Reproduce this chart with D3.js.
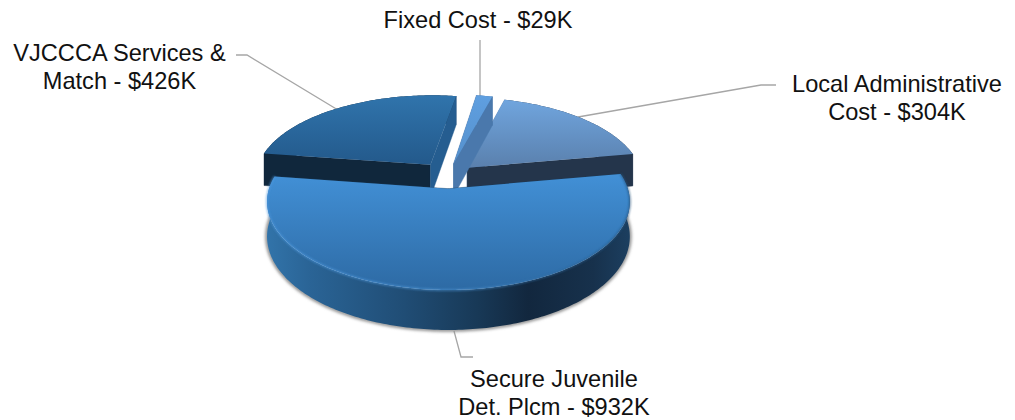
<!DOCTYPE html>
<html>
<head>
<meta charset="utf-8">
<script src="https://cdn.jsdelivr.net/npm/d3@7"></script>
<style>
  html, body { margin: 0; padding: 0; background: #fff; }
  text { font-family: "Liberation Sans", Arial, sans-serif; font-size: 23.6px; fill: #111; text-anchor: middle; }
</style>
</head>
<body>
<svg id="chart" width="1015" height="420"></svg>
<script>
// Budget categories and amounts in thousands of dollars, clockwise from the top.
const categories = ["Fixed Cost", "Local Administrative Cost", "Secure Juvenile Det. Plcm", "VJCCCA Services & Match"];
const amounts = [29, 304, 932, 426];
const labelLines = [
  ["Fixed Cost - $29K"],
  ["Local Administrative", "Cost - $304K"],
  ["Secure Juvenile", "Det. Plcm - $932K"],
  ["VJCCCA Services &", "Match - $426K"]
];
const labelAnchors = [[478, 28], [897, 92], [554, 387], [119.5, 61]];
const leaderLines = [
  [[480, 40], [480, 97]],
  [[776, 85], [761, 85], [578, 117]],
  [[454, 331], [461, 357], [473, 357]],
  [[236, 55], [247, 55], [338, 110]]
];
const explode = [0.155, 0.15, 0.15, 0.172];

const topStops = [
  [["#5f9fe0", 0], ["#5590cc", 1]],
  [["#70a5de", 0], ["#5a80ad", 1]],
  [["#4290d6", 0], ["#2d6aa4", 1]],
  [["#3074ac", 0], ["#23598b", 1]]
];
const faceColours = [
  { start: "#3d6a9f", end: "#4a78ac" },
  { start: "#4d7bb0", end: "#24354b" },
  { start: "#1b3f60", end: "#1b3f60" },
  { start: "#10273c", end: "#255d90" }
];
const outerColours = ["#3d6a9f", "#24354b", null, "#10273c"];

const svg = d3.select("#chart");
const defs = svg.append("defs");

// Oblique view of the pie: a disc in perspective, nearer points drawn larger.
const centre = { x: 448, y: 176 };
const view = { sx: 175.5, sy: 82.6, k: 0.145, depth: 33.3 };
const project = (u, v, down = 0) => {
  const w = 1 / (1 - view.k * v);
  return [centre.x + view.sx * u * w, centre.y + (view.sy * v + down * view.depth) * w];
};

const arcs = d3.pie().sort(null).value(d => d)
  .startAngle(9 * Math.PI / 180)
  .endAngle(369 * Math.PI / 180)(amounts);

const line = d3.line();

// Each slice carries its own outward shift along its middle angle.
function sliceGeometry(arc, i) {
  const mid = (arc.startAngle + arc.endAngle) / 2;
  const ox = explode[i] * Math.sin(mid), oy = -explode[i] * Math.cos(mid);
  const rim = (a, down) => project(ox + Math.sin(a), oy - Math.cos(a), down);
  const apex = down => project(ox, oy, down);
  const steps = Math.max(6, Math.ceil((arc.endAngle - arc.startAngle) * 60));
  const angles = d3.range(steps + 1).map(j => arc.startAngle + (arc.endAngle - arc.startAngle) * j / steps);
  return { rim, apex, angles };
}

function linearGradient(id, x1, y1, x2, y2, stops) {
  const g = defs.append("linearGradient").attr("id", id)
    .attr("gradientUnits", "userSpaceOnUse")
    .attr("x1", x1).attr("y1", y1).attr("x2", x2).attr("y2", y2);
  stops.forEach(([c, o]) => g.append("stop").attr("offset", o).attr("stop-color", c));
  return `url(#${id})`;
}

defs.append("filter").attr("id", "soft").attr("x", "-10%").attr("y", "-10%").attr("width", "120%").attr("height", "120%")
  .append("feGaussianBlur").attr("stdDeviation", 1.6);
defs.append("filter").attr("id", "edge").attr("x", "-5%").attr("y", "-5%").attr("width", "110%").attr("height", "110%")
  .append("feGaussianBlur").attr("stdDeviation", 0.8);

const bigIndex = amounts.indexOf(d3.max(amounts));
const wallFill = linearGradient("wall", 266, 0, 630, 0, [
  ["#3274aa", 0], ["#2a6496", 0.12], ["#204d75", 0.38], ["#183957", 0.58],
  ["#12273e", 0.72], ["#17314c", 0.9], ["#1c3f60", 1]
]);

// Leader lines sit underneath the slices.
svg.append("g").selectAll("path").data(leaderLines).join("path")
  .attr("d", d => line(d))
  .attr("fill", "none").attr("stroke", "#a6a6a6").attr("stroke-width", 1.3);

// The small back slices come first, the large front slice last.
const order = [3, 1, 0, 2];
order.forEach(i => {
  const arc = arcs[i];
  const { rim, apex, angles } = sliceGeometry(arc, i);
  const group = svg.append("g").attr("class", "slice").attr("data-name", categories[i]);
  const rimTop = angles.map(a => rim(a, 0));
  const rimLow = angles.map(a => rim(a, 1)).reverse();

  if (i === bigIndex) {
    // Soft contact shadow hugging the front wall.
    const frontLow = angles.map(a => rim(a, 1));
    group.append("path").attr("d", line(frontLow))
      .attr("fill", "none").attr("stroke", "#8c8c8c").attr("stroke-width", 3.5)
      .attr("filter", "url(#soft)");
  }

  group.append("path").attr("d", line(rimTop.concat(rimLow)) + "Z")
    .attr("fill", i === bigIndex ? wallFill : outerColours[i]);

  const radialWall = (a, colour) => group.append("path")
    .attr("d", line([apex(0), rim(a, 0), rim(a, 1), apex(1)]) + "Z")
    .attr("fill", colour).attr("stroke", colour).attr("stroke-width", 0.4);
  radialWall(arc.startAngle, faceColours[i].start);
  radialWall(arc.endAngle, faceColours[i].end);

  const ys = rimTop.map(p => p[1]).concat(apex(0)[1]);
  const topFill = linearGradient(`top${i}`, 0, d3.min(ys), 0, d3.max(ys), topStops[i]);
  group.append("path").attr("d", line([apex(0), ...rimTop]) + "Z").attr("fill", topFill);

  if (i === bigIndex) {
    // Bevel along the near edge of the top face: light on the left, shaded on the right.
    const hl = linearGradient("bevel", 266, 0, 630, 0, [
      ["#4f9ae0", 0], ["#4f97d8", 0.5], ["#2f6597", 0.82], ["#244f78", 1]
    ]);
    group.append("path").attr("d", line(rimTop))
      .attr("fill", "none").attr("stroke", hl).attr("stroke-width", 1.6)
      .attr("opacity", 0.8).attr("filter", "url(#edge)");
  }
});

// Two-line labels are centred on their anchors.
labelLines.forEach((lines, i) => {
  const t = svg.append("text").attr("x", labelAnchors[i][0]).attr("y", labelAnchors[i][1]);
  lines.forEach((s, j) => t.append("tspan")
    .attr("x", labelAnchors[i][0]).attr("dy", j ? 27.5 : 0).text(s));
});
</script>
</body>
</html>
